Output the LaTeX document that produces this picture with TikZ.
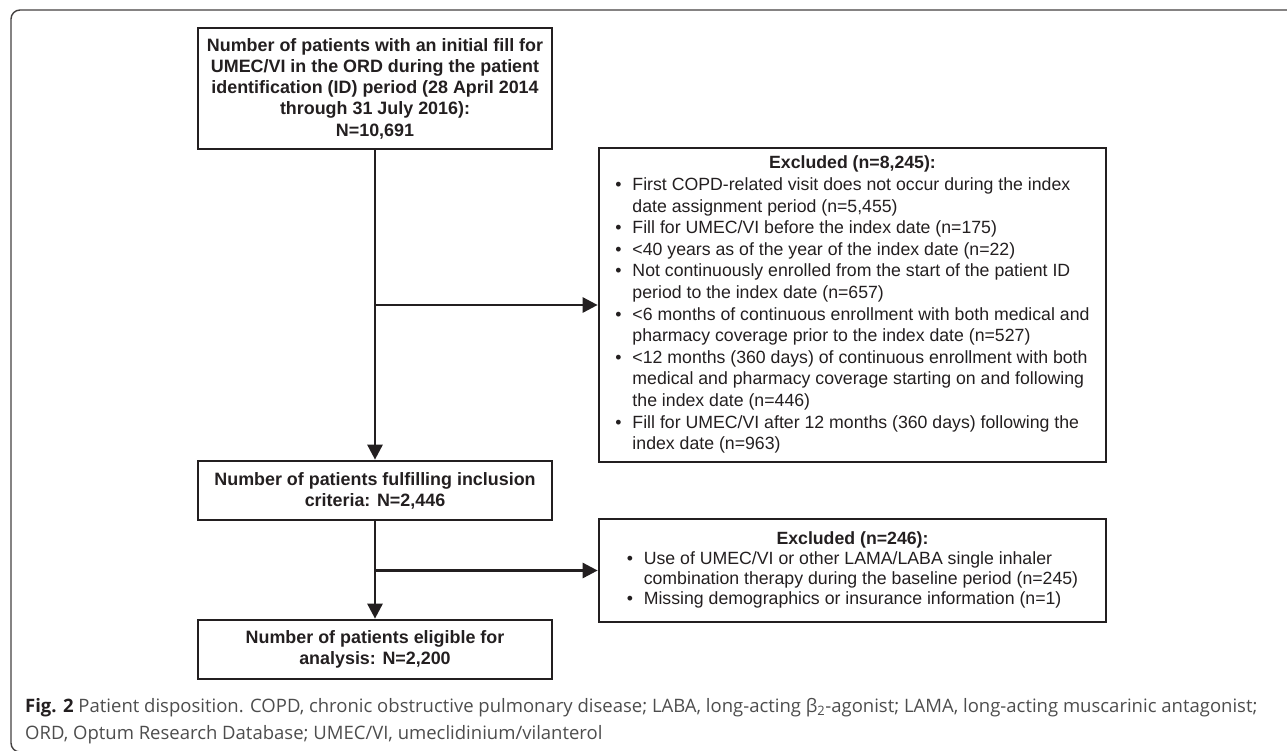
\documentclass[tikz,border=0pt]{standalone}
\usepackage{fontspec}
\setmainfont{Liberation Sans}
\newfontfamily\capfont{Open Sans}
\usetikzlibrary{arrows.meta}
\definecolor{ink}{HTML}{231F20}
\definecolor{capgray}{HTML}{4D4D4D}
\tikzset{>={Triangle[length=15pt,width=15pt]}}

\begin{document}
\begin{tikzpicture}[x=1pt,y=-1pt,
    mainbox/.style={draw=ink, text=ink, line width=2.7pt, minimum width=354pt, inner sep=0pt, align=center, font=\fontsize{17.9}{21.2}\selectfont\bfseries},
    exclbox/.style={draw=ink, text=ink, line width=2.7pt, minimum width=507pt, inner sep=0pt},
    captext/.style={anchor=base west, inner sep=0pt, text=capgray, font=\capfont\fontsize{18.5}{27}\selectfont},
    flow/.style={->, draw=ink, line width=2.7pt}]
    \useasboundingbox (0,0) rectangle (1287,750);
    \draw[line width=1.4pt, draw=ink!85, rounded corners=9pt] (11,10) rectangle (1320,752);

    \node[mainbox, minimum height=121pt] (ident) at (375,88.5) {Number of patients with an initial fill for\\UMEC/VI in the ORD during the patient\\identification (ID) period (28 April 2014\\through 31 July 2016):\\N=10,691};
    \node[mainbox, minimum height=59pt] (incl) at (375,490.5) {Number of patients fulfilling inclusion\\criteria: N=2,446};
    \node[mainbox, minimum height=59pt] (elig) at (375,649.5) {Number of patients eligible for\\analysis: N=2,200};

    \node[exclbox, minimum height=314pt, font=\fontsize{17.7}{21.6}\selectfont] (excl1) at (852.5,305) {\begin{tabular}{@{}p{17pt}@{}l@{}}
        \multicolumn{2}{c}{\bfseries Excluded (n=8,245):}\\
        \textbullet & First COPD-related visit does not occur during the index\\
        & date assignment period (n=5,455)\\
        \textbullet & Fill for UMEC/VI before the index date (n=175)\\
        \textbullet & <40 years as of the year of the index date (n=22)\\
        \textbullet & Not continuously enrolled from the start of the patient ID\\
        & period to the index date (n=657)\\
        \textbullet & <6 months of continuous enrollment with both medical and\\
        & pharmacy coverage prior to the index date (n=527)\\
        \textbullet & <12 months (360 days) of continuous enrollment with both\\
        & medical and pharmacy coverage starting on and following\\
        & the index date (n=446)\\
        \textbullet & Fill for UMEC/VI after 12 months (360 days) following the\\
        & index date (n=963)
    \end{tabular}};
    \node[exclbox, minimum height=103pt, font=\fontsize{17.7}{19.7}\selectfont] (excl2) at (852.5,570.5) {\begin{tabular}{@{}p{17pt}@{}l@{}}
        \multicolumn{2}{c}{\bfseries Excluded (n=246):}\\
        \textbullet & Use of UMEC/VI or other LAMA/LABA single inhaler\\
        & combination therapy during the baseline period (n=245)\\
        \textbullet & Missing demographics or insurance information (n=1)
    \end{tabular}};

    \draw[flow] (ident.south) -- (incl.north);
    \draw[flow] (incl.south) -- (elig.north);
    \draw[flow] (ident.south |- excl1.west) -- (excl1.west);
    \draw[flow] (incl.south |- excl2.west) -- (excl2.west);

    \node[captext] (capa) at (25,712) {\textbf{\color{ink}Fig. 2} Patient disposition. COPD, chronic obstructive pulmonary disease; LABA, long-acting β\textsubscript{2}-agonist; LAMA, long-acting muscarinic antagonist;};
    \node[captext] (capb) at (25,739) {ORD, Optum Research Database; UMEC/VI, umeclidinium/vilanterol};
\end{tikzpicture}
\end{document}
